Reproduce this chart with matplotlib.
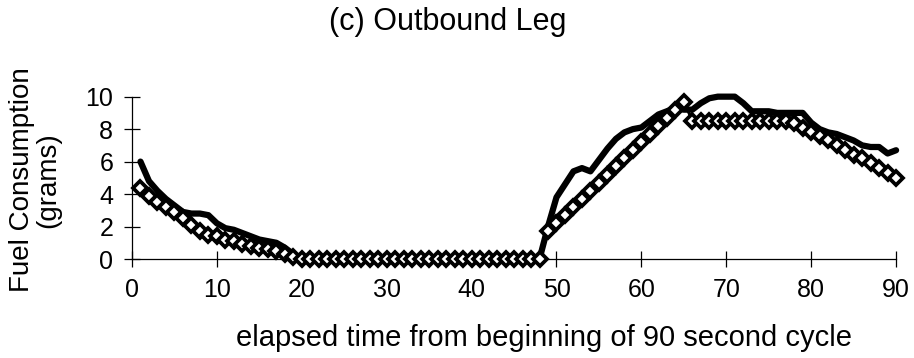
import numpy as np
import matplotlib.pyplot as plt

plt.rcParams['font.family'] = ['Liberation Sans', 'DejaVu Sans']

# seconds into the 90 s cycle
t = np.arange(1, 91)

# measured fuel use (solid line), grams
measured = [6.0, 4.8, 4.2, 3.7, 3.3, 2.9, 2.8, 2.8, 2.7, 2.2,
            1.9, 1.8, 1.6, 1.4, 1.2, 1.1, 1.0, 0.7, 0.3, 0.0,
            0.0, 0.0, 0.0, 0.0, 0.0, 0.0, 0.0, 0.0, 0.0, 0.0,
            0.0, 0.0, 0.0, 0.0, 0.0, 0.0, 0.0, 0.0, 0.0, 0.0,
            0.0, 0.0, 0.0, 0.0, 0.0, 0.0, 0.0, 0.0, 2.0, 3.8,
            4.6, 5.4, 5.6, 5.4, 6.1, 6.8, 7.4, 7.8, 8.0, 8.1,
            8.5, 8.9, 9.1, 9.3, 9.2, 9.2, 9.6, 9.9, 10.0, 10.0,
            10.0, 9.6, 9.1, 9.1, 9.1, 9.0, 9.0, 9.0, 9.0, 8.4,
            8.0, 7.8, 7.7, 7.5, 7.3, 7.0, 6.9, 6.9, 6.5, 6.7]

# model estimate (diamonds), grams
model = [4.4, 3.9, 3.5, 3.2, 2.9, 2.5, 2.1, 1.7, 1.5, 1.4,
         1.2, 1.1, 0.9, 0.8, 0.7, 0.6, 0.5, 0.3, 0.15, 0.0,
         0.0, 0.0, 0.0, 0.0, 0.0, 0.0, 0.0, 0.0, 0.0, 0.0,
         0.0, 0.0, 0.0, 0.0, 0.0, 0.0, 0.0, 0.0, 0.0, 0.0,
         0.0, 0.0, 0.0, 0.0, 0.0, 0.0, 0.0, 0.0, 1.7, 2.2,
         2.7, 3.2, 3.7, 4.2, 4.7, 5.2, 5.7, 6.2, 6.7, 7.2,
         7.7, 8.2, 8.7, 9.2, 9.7, 8.5, 8.5, 8.5, 8.5, 8.5,
         8.5, 8.5, 8.5, 8.5, 8.5, 8.5, 8.5, 8.4, 8.1, 7.8,
         7.6, 7.3, 7.0, 6.7, 6.4, 6.2, 5.9, 5.6, 5.3, 5.0]

fig = plt.figure(figsize=(9.14, 3.58), dpi=100)
ax = fig.add_axes([0.1444, 0.2765, 0.836, 0.4535])

ax.plot(t, measured, color='black', lw=4.5, solid_joinstyle='round',
        solid_capstyle='round', clip_on=False, zorder=2)
ax.plot(t, model, color='black', lw=2.0, marker='D', ms=7.4,
        mfc='white', mec='black', mew=2.7, clip_on=False, zorder=3)

ax.set_xlim(0, 90)
ax.set_ylim(0, 10)
ax.set_xticks(range(0, 91, 10))
ax.set_yticks(range(0, 11, 2))
for s in ['top', 'right']:
    ax.spines[s].set_visible(False)
for s in ['left', 'bottom']:
    ax.spines[s].set_linewidth(0.9)
ax.tick_params(direction='inout', length=11, width=0.9, labelsize=18, pad=8)

fig.text(0.595, 0.056, 'elapsed time from beginning of 90 second cycle',
         ha='center', va='center', fontsize=21)
fig.text(0.49, 0.939, '(c) Outbound Leg', ha='center', va='center', fontsize=22)
fig.text(0.024, 0.497, 'Fuel Consumption', rotation=90, ha='center', va='center', fontsize=20)
fig.text(0.0525, 0.497, '(grams)', rotation=90, ha='center', va='center', fontsize=20)

fig.savefig('out.png', dpi=100)
